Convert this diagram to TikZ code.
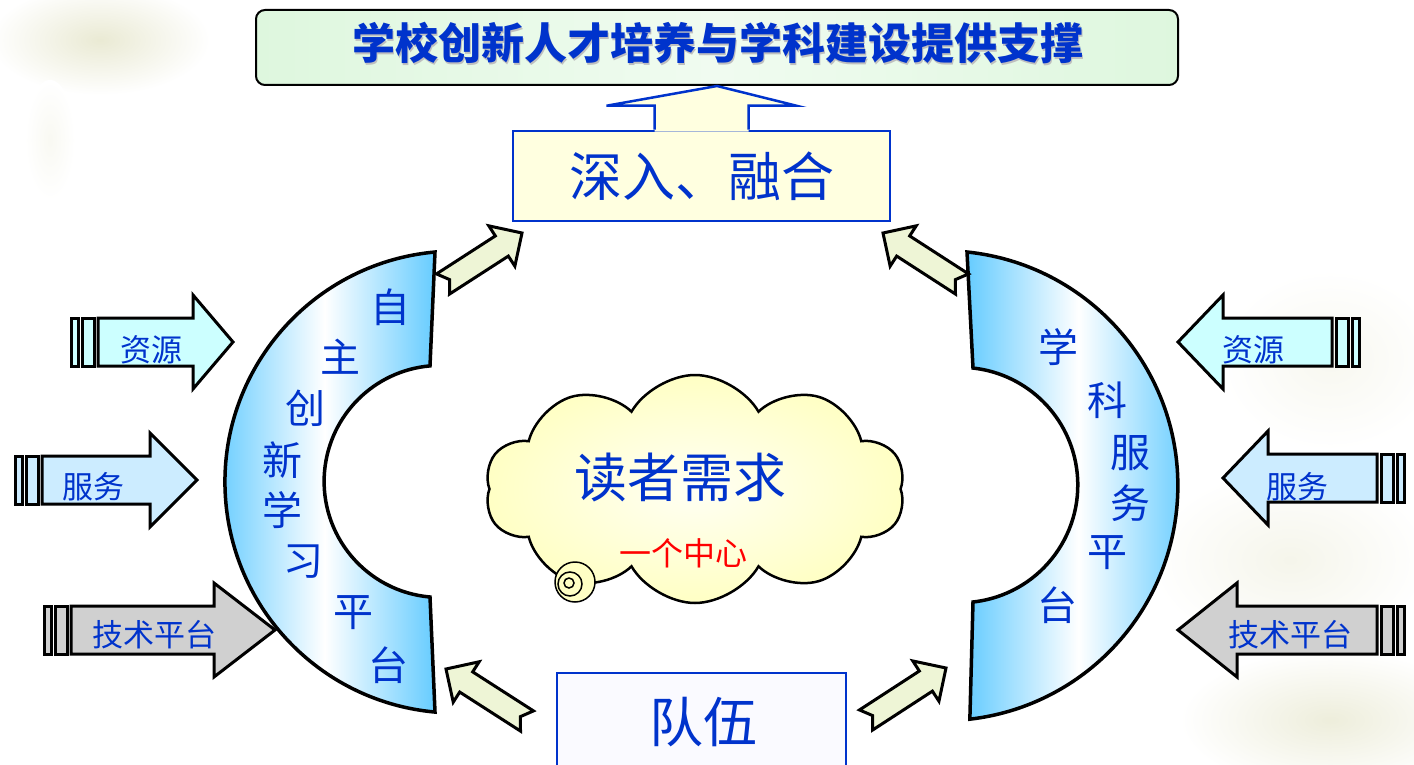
\documentclass[tikz,border=0pt]{standalone}
\usepackage{fontspec}
\setmainfont{Noto Sans CJK SC}
\usetikzlibrary{calc, positioning, shapes.symbols}
\usepackage{xcolor}
\definecolor{textblue}{RGB}{0,51,204}
\definecolor{skyring}{RGB}{102,204,255}
\definecolor{paleyellow}{RGB}{255,255,224}
\definecolor{mint}{RGB}{222,247,222}
\definecolor{cyanin}{RGB}{204,255,255}
\definecolor{bluein}{RGB}{204,236,255}
\definecolor{grayin}{RGB}{208,208,208}
\definecolor{olivearrow}{RGB}{238,245,214}
\definecolor{cloudin}{RGB}{255,255,244}
\definecolor{cloudout}{RGB}{255,255,196}
\definecolor{bgtint}{RGB}{230,230,204}
\def\csize#1{\fontsize{#1}{#1}\selectfont}

% notched block arrow from tail #1 to tip #2
\newcommand\notcharrow[2]{%
  \coordinate (#1-base) at ($(#2)!24pt!(#1)$);
  \coordinate (#1-notch) at ($(#1)!8pt!(#2)$);
  \draw[link arrow] ($(#1)!12pt!90:(#2)$) -- ($(#1-base)!12pt!90:(#2)$) -- ($(#1-base)!24pt!90:(#2)$) -- (#2)
    -- ($(#1-base)!24pt!-90:(#2)$) -- ($(#1-base)!12pt!-90:(#2)$) -- ($(#1)!12pt!-90:(#2)$) -- (#1-notch) -- cycle;}

% striped block arrow: fill, shaft start, head base, tip, y, direction
\newcommand\sidearrow[6]{%
  \pgfmathsetmacro\stripa{#2-4*(#6)}
  \pgfmathsetmacro\stripb{#2-16*(#6)}
  \pgfmathsetmacro\stripc{#2-20*(#6)}
  \pgfmathsetmacro\stripd{#2-27*(#6)}
  \draw[side arrow, fill=#1] (#2,#5-24) -- (#3,#5-24) -- (#3,#5-47) -- (#4,#5) -- (#3,#5+47) -- (#3,#5+24) -- (#2,#5+24) -- cycle;
  \draw[side arrow, fill=#1] (\stripa,#5-24) rectangle (\stripb,#5+24);
  \draw[side arrow, fill=#1] (\stripc,#5-24) rectangle (\stripd,#5+24);}

\begin{document}
\begin{tikzpicture}[x=1pt, y=-1pt, line join=miter]
    \tikzstyle{ring}=[draw=black, line width=3.5pt]
    \tikzstyle{ring text}=[text=textblue, font=\csize{40}, inner sep=0pt]
    \tikzstyle{side arrow}=[draw=black, line width=3pt]
    \tikzstyle{side text}=[text=textblue, font=\csize{31}, inner sep=0pt]
    \tikzstyle{link arrow}=[draw=black, line width=3pt, fill=olivearrow]
    \tikzstyle{blue box}=[rectangle, draw=textblue, line width=2.5pt, text=textblue, font=\csize{53}]

    \useasboundingbox (0,0) rectangle (1414,765);
    \fill[white] (0,0) rectangle (1414,765);

    % faint background wash
    \shade[inner color=bgtint!85, outer color=white] (100,40) ellipse [x radius=110pt, y radius=55pt];
    \shade[inner color=bgtint!25, outer color=white] (50,140) ellipse [x radius=25pt, y radius=60pt];
    \shade[inner color=bgtint!30, outer color=white] (1330,360) ellipse [x radius=110pt, y radius=90pt];
    \shade[inner color=bgtint!40, outer color=white] (1290,560) ellipse [x radius=140pt, y radius=90pt];
    \shade[inner color=bgtint!70, outer color=white] (1330,720) ellipse [x radius=150pt, y radius=70pt];

    % top goal
    \node[rectangle, rounded corners=9pt, draw=black, line width=2pt, left color=mint, right color=mint, middle color=mint!45,
          minimum width=922pt, minimum height=75pt] (title) at (717,47.5) {};
    \node[text=black!25, font=\csize{43}\bfseries] (title-sh) at (719,45) {学校创新人才培养与学科建设提供支撑};
    \node[text=textblue, font=\csize{43}\bfseries] (title-txt) at (717.5,43) {学校创新人才培养与学科建设提供支撑};

    \node[blue box, fill=paleyellow, minimum width=377pt, minimum height=90pt] (deep) at (701.5,176) {深入、融合};
    \coordinate (up-l) at ([xshift=-47pt]deep.north);
    \coordinate (up-r) at ([xshift=47pt]deep.north);
    \fill[paleyellow] ([yshift=-2pt]up-l) -- (up-l) -- ++(0,-24) -- ++(-48,0) -- (title.south)
        -- ($(up-r)+(48,-24)$) -- ++(-48,0) -- (up-r) -- ([yshift=-2pt]up-r) -- cycle;
    \draw[textblue, line width=2.5pt] (up-l) -- ++(0,-24) -- ++(-48,0) -- (title.south)
        -- ($(up-r)+(48,-24)$) -- ++(-48,0) -- (up-r);

    \node[blue box, fill=blue!2, minimum width=289pt, minimum height=104pt] (team) at (701.5,725) {};
    \node[text=textblue, font=\csize{54}, inner sep=0pt] (team-txt) at (703,722) {队伍};

    % inputs on both sides
    \sidearrow{cyanin}{98}{193}{233}{342}{1}
    \sidearrow{bluein}{42}{150}{197}{480}{1}
    \sidearrow{grayin}{71}{214}{275}{630}{1}
    \sidearrow{cyanin}{1332}{1223}{1178}{342}{-1}
    \sidearrow{bluein}{1377}{1268}{1223}{478}{-1}
    \sidearrow{grayin}{1377}{1237}{1178}{630}{-1}
    \node[side text] (res-l) at (151,350) {资源};
    \node[side text] (srv-l) at (93,487) {服务};
    \node[side text] (tec-l) at (154,635) {技术平台};
    \node[side text] (res-r) at (1253,350) {资源};
    \node[side text] (srv-r) at (1297,487) {服务};
    \node[side text] (tec-r) at (1290,635) {技术平台};

    % the two platforms
    \draw[ring, left color=skyring, right color=skyring, middle color=white]
        (435,252) arc[start angle=95.2, end angle=264.8, radius=231pt] -- (430,597)
        arc[start angle=265, end angle=95, radius=116pt] -- cycle;
    \draw[ring, left color=skyring, right color=skyring, middle color=white]
        (967,252) arc[start angle=84.1, end angle=-83.4, radius=235pt] -- (973,602)
        arc[start angle=-83.7, end angle=83.7, radius=117.7pt] -- cycle;
    \foreach \ch/\px/\py [count=\i] in {自/390/307, 主/340/357, 创/305/408, 新/282/460, 学/282/510, 习/303/562, 平/353/613, 台/388/665}
        \node[ring text] (self-\i) at (\px,\py) {\ch};
    \foreach \ch/\px/\py [count=\i] in {学/1058/347, 科/1107/400, 服/1130/453, 务/1130/503, 平/1107/553, 台/1057/605}
        \node[ring text] (subj-\i) at (\px,\py) {\ch};

    % links between platforms and boxes
    \coordinate (lt-tail) at (443,284);  \coordinate (lt-tip) at (522,233);
    \coordinate (rt-tail) at (962,284);  \coordinate (rt-tip) at (883,233);
    \coordinate (lb-tail) at (527,721);  \coordinate (lb-tip) at (446,669);
    \coordinate (rb-tail) at (866,720);  \coordinate (rb-tip) at (946,668);
    \notcharrow{lt-tail}{lt-tip}
    \notcharrow{rt-tail}{rt-tip}
    \notcharrow{lb-tail}{lb-tip}
    \notcharrow{rb-tail}{rb-tip}

    % centre
    \node[cloud, cloud puffs=10, cloud puff arc=120, aspect=1.8, draw=black, line width=2.5pt,
          inner color=cloudin, outer color=cloudout, minimum width=420pt, minimum height=228pt] (cloud) at (695,489) {};
    \draw[black, line width=1.5pt, fill=cloudout] (575,582) circle [radius=20pt];
    \draw[black, line width=1.5pt] (570,584) circle [radius=12pt];
    \draw[black, line width=1.5pt] (569,583) circle [radius=5pt];
    \node[text=textblue, font=\csize{53}, inner sep=0pt] (need) at (680,477) {读者需求};
    \node[text=red, font=\csize{32}, inner sep=0pt] (centre) at (683,553) {一个中心};
\end{tikzpicture}
\end{document}
